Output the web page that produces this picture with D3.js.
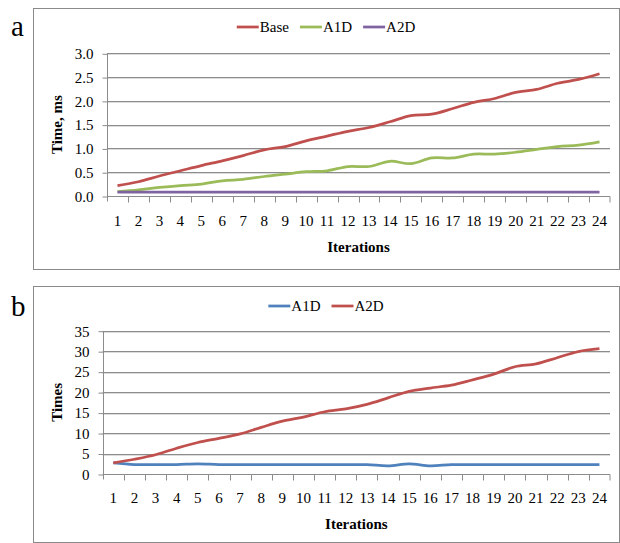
<!DOCTYPE html>
<html>
<head>
<meta charset="utf-8">
<script src="https://cdn.jsdelivr.net/npm/d3@7"></script>
<style>
  body { margin: 0; background: #fff; }
  svg { display: block; font-family: "Liberation Serif", "Times New Roman", serif; }
</style>
</head>
<body>
<div id="chart"></div>
<script>
var iterations = [1, 2, 3, 4, 5, 6, 7, 8, 9, 10, 11, 12, 13, 14, 15, 16, 17, 18, 19, 20, 21, 22, 23, 24];

// panel a: time, ms
var baseTime = [0.22, 0.30, 0.42, 0.53, 0.64, 0.74, 0.85, 0.97, 1.04, 1.16, 1.26, 1.36,
                1.44, 1.56, 1.69, 1.72, 1.84, 1.97, 2.05, 2.18, 2.24, 2.37, 2.45, 2.57];
var a1dTime = [0.09, 0.13, 0.18, 0.22, 0.25, 0.32, 0.35, 0.41, 0.46, 0.51, 0.53, 0.62,
               0.62, 0.73, 0.68, 0.80, 0.80, 0.88, 0.88, 0.92, 0.98, 1.04, 1.07, 1.14];
var a2dTime = [0.08, 0.08, 0.08, 0.08, 0.08, 0.08, 0.08, 0.08, 0.08, 0.08, 0.08, 0.08,
               0.08, 0.08, 0.08, 0.08, 0.08, 0.08, 0.08, 0.08, 0.08, 0.08, 0.08, 0.08];
var timeTicks = [0, 0.5, 1.0, 1.5, 2.0, 2.5, 3.0];

// panel b: speed-up, times
var a1dTimes = [2.7, 2.3, 2.3, 2.3, 2.5, 2.3, 2.3, 2.3, 2.3, 2.3, 2.3, 2.3,
                2.3, 2.0, 2.5, 2.0, 2.3, 2.3, 2.3, 2.3, 2.3, 2.3, 2.3, 2.3];
var a2dTimes = [2.7, 3.6, 4.7, 6.3, 7.7, 8.7, 9.8, 11.4, 12.9, 13.9, 15.2, 15.9,
                17.0, 18.6, 20.2, 21.0, 21.7, 23.0, 24.4, 26.2, 26.9, 28.4, 29.9, 30.6];
var timesTicks = [0, 5, 10, 15, 20, 25, 30, 35];

var svg = d3.select('#chart')
    .append('svg')
    .attr('width', 620)
    .attr('height', 543);

var drawPanel = function(p) {
	var g = svg.append('g');

	g.append('rect')
	    .attr('x', 33.5).attr('y', p.top + 0.5)
	    .attr('width', 586).attr('height', p.bottom - p.top)
	    .attr('fill', 'none')
	    .attr('stroke', '#8a8a8a');

	g.append('text')
	    .attr('x', 11).attr('y', p.letterY)
	    .attr('font-size', 29)
	    .text(p.letter);

	var x = d3.scaleBand().domain(iterations).range([p.left, 610]);
	var y = d3.scaleLinear().domain([0, p.ymax]).range([p.y0, p.y1]);

	// gridlines
	p.ticks.forEach(function(t) {
		if (t === 0) return;
		g.append('line')
		    .attr('x1', p.left).attr('x2', 610)
		    .attr('y1', Math.round(y(t)) + 1.5).attr('y2', Math.round(y(t)) + 1.5)
		    .attr('stroke', '#dcdcdc');
		g.append('line')
		    .attr('x1', p.left).attr('x2', 610)
		    .attr('y1', Math.round(y(t)) + 0.5).attr('y2', Math.round(y(t)) + 0.5)
		    .attr('stroke', '#8c8c8c');
	});

	// y axis
	var yAxis = d3.axisLeft(y)
	    .tickValues(p.ticks)
	    .tickSize(5)
	    .tickPadding(9)
	    .tickFormat(p.fmt);
	var ya = g.append('g')
	    .attr('transform', 'translate(' + (Math.round(p.left) + 0.5) + ',0.5)')
	    .call(yAxis);
	ya.select('.domain').attr('stroke', '#8c8c8c').attr('d', 'M0,' + y(p.ymax) + 'V' + (y(0) + 5));
	ya.selectAll('.tick line').attr('stroke', '#8c8c8c');
	ya.selectAll('.tick text')
	    .attr('font-family', '"Liberation Serif", serif')
	    .attr('font-size', 15)
	    .attr('fill', '#000');

	// x axis
	var xa = g.append('g')
	    .attr('transform', 'translate(0,' + (Math.round(y(0)) + 0.5) + ')');
	xa.append('line')
	    .attr('x1', p.left).attr('x2', 610)
	    .attr('stroke', '#8c8c8c');
	xa.selectAll('.bound')
	    .data(iterations.slice(1).concat(['end']))
	    .enter().append('line')
	    .attr('x1', function(d) { return d === 'end' ? 610 : Math.round(x(d)) + 0.5; })
	    .attr('x2', function(d) { return d === 'end' ? 610 : Math.round(x(d)) + 0.5; })
	    .attr('y1', 0).attr('y2', 6)
	    .attr('stroke', '#8c8c8c');
	xa.selectAll('.lab')
	    .data(iterations)
	    .enter().append('text')
	    .attr('x', function(d) { return x(d) + x.bandwidth() / 2; })
	    .attr('y', p.labelDy)
	    .attr('text-anchor', 'middle')
	    .attr('font-size', 15)
	    .text(function(d) { return d; });

	g.append('text')
	    .attr('x', (p.left + 610) / 2)
	    .attr('y', p.xTitleY)
	    .attr('text-anchor', 'middle')
	    .attr('font-size', 15)
	    .attr('font-weight', 'bold')
	    .text('Iterations');

	g.append('text')
	    .attr('transform', 'translate(62,' + ((p.y0 + p.y1) / 2) + ') rotate(-90)')
	    .attr('text-anchor', 'middle')
	    .attr('font-size', 15)
	    .attr('font-weight', 'bold')
	    .text(p.yTitle);

	// lines
	var line = d3.line()
	    .x(function(d, i) { return x(iterations[i]) + x.bandwidth() / 2; })
	    .y(function(d) { return y(d); })
	    .curve(d3.curveCatmullRom.alpha(0.5));

	p.series.forEach(function(s) {
		g.append('path')
		    .datum(s.values)
		    .attr('d', line)
		    .attr('fill', 'none')
		    .attr('stroke', s.color)
		    .attr('stroke-width', 2.75)
		    .attr('stroke-linejoin', 'round');
	});

	// legend, centred in the frame
	var leg = g.append('g');
	var cx = 0;
	p.series.forEach(function(s) {
		leg.append('line')
		    .attr('x1', cx).attr('x2', cx + 22)
		    .attr('y1', 0).attr('y2', 0)
		    .attr('stroke', s.color)
		    .attr('stroke-width', 2.75);
		var t = leg.append('text')
		    .attr('x', cx + 23).attr('y', 5)
		    .attr('font-size', 15)
		    .text(s.name);
		cx += 23 + t.node().getComputedTextLength() + 11;
	});
	cx -= 11;
	leg.attr('transform', 'translate(' + (326 - cx / 2) + ',' + p.legendY + ')');
};

drawPanel({
	top: 8, bottom: 269, letter: 'a', letterY: 36,
	left: 107, y0: 196, y1: 53.3, ymax: 3.0,
	ticks: timeTicks, fmt: d3.format('.1f'),
	labelDy: 29, xTitleY: 252, legendY: 27,
	yTitle: 'Time, ms',
	series: [
		{ name: 'Base', values: baseTime, color: '#c0504d' },
		{ name: 'A1D', values: a1dTime, color: '#9bbb59' },
		{ name: 'A2D', values: a2dTime, color: '#8064a2' }
	]
});

drawPanel({
	top: 286, bottom: 542, letter: 'b', letterY: 316,
	left: 102.7, y0: 474, y1: 330.7, ymax: 35,
	ticks: timesTicks, fmt: d3.format('d'),
	labelDy: 28, xTitleY: 529, legendY: 306,
	yTitle: 'Times',
	series: [
		{ name: 'A1D', values: a1dTimes, color: '#4f81bd' },
		{ name: 'A2D', values: a2dTimes, color: '#c0504d' }
	]
});
</script>
</body>
</html>
